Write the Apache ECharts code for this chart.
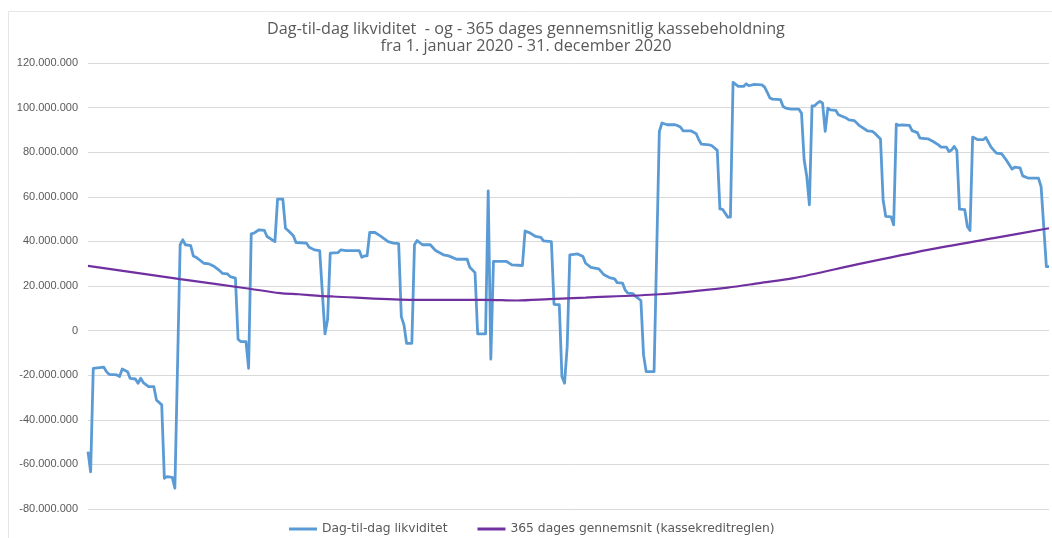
<!DOCTYPE html>
<html>
<head>
<meta charset="utf-8">
<script src="https://cdn.jsdelivr.net/npm/echarts@6/dist/echarts.min.js"></script>
<style>
html,body{margin:0;padding:0;background:#fff;}
#c{width:1052px;height:538px;}
</style>
</head>
<body>
<div id="c"></div>
<script>
// Daily liquidity (values in millions DKK), day-of-year index 1..366
const blueDays = [
  1,2,3,7,8,9,12,13,14,16,
  17,19,20,21,22,24,26,27,29,30,
  31,33,34,36,37,38,40,41,42,45,
  47,49,51,52,54,55,57,58,59,61,
  62,63,64,66,68,69,72,73,75,76,
  77,79,80,84,85,87,89,91,92,93,
  96,97,99,104,105,106,107,108,110,112,
  115,117,119,120,121,122,124,125,126,128,
  131,133,136,138,141,145,146,148,149,152,
  153,154,155,160,162,166,167,169,171,173,
  174,177,178,180,181,182,183,184,187,189,
  190,192,195,197,199,201,202,204,205,206,
  208,209,211,212,213,216,218,219,221,224,
  225,226,227,230,232,233,234,237,238,240,
  241,242,244,245,246,248,250,251,252,254,
  257,258,259,260,261,264,265,266,268,271,
  272,273,274,275,276,277,278,279,280,281,
  282,283,285,286,289,290,292,293,294,297,
  299,300,302,303,304,306,307,308,309,310,
  313,314,316,317,320,322,324,325,327,328,
  329,330,331,332,334,335,336,337,339,341,
  342,344,346,348,350,352,353,355,356,358,
  362,363,365,366
];
const blueValues = [
  -54.3,-63.3,-16.9,-16.4,-18.4,-19.6,-19.9,-20.6,-17.2,-18.4,
  -21.4,-21.7,-23.6,-21.4,-23.3,-25.1,-25.1,-31.1,-33.3,-66.2,
  -65.5,-65.8,-70.7,38.5,40.7,38.5,38.1,33.5,32.9,30.2,
  29.9,28.7,26.9,25.7,25.4,24.2,23.5,-3.9,-4.9,-4.9,
  -16.9,43.4,43.7,45.2,44.9,42.2,39.9,59.0,59.0,45.9,
  44.9,42.5,39.5,39.2,37.4,36.2,35.9,-1.5,5.0,34.7,
  35.0,36.2,35.9,35.9,32.9,33.5,33.5,44.0,44.0,42.5,
  39.9,39.2,39.0,6.3,2.6,-5.7,-5.7,38.5,40.4,38.5,
  38.5,35.9,34.0,33.5,32.0,32.0,28.4,26.0,-1.5,-1.5,
  62.7,-12.8,31.0,31.0,29.5,29.2,44.7,43.7,42.2,41.8,
  40.2,39.9,11.8,11.6,-20.6,-23.6,-7.2,34.0,34.4,33.2,
  30.2,28.4,27.7,25.0,23.8,23.2,21.5,21.3,18.3,16.8,
  16.6,15.3,13.5,-10.9,-18.4,-18.4,89.3,93.1,92.3,92.3,
  91.9,91.3,89.6,89.6,88.3,85.6,83.6,83.3,82.9,80.8,
  54.6,54.4,50.9,50.9,111.3,109.5,109.5,110.7,109.8,110.4,
  110.2,109.2,106.8,104.3,103.8,103.6,100.5,99.8,99.3,99.3,
  97.5,76.6,69.1,56.4,100.8,100.8,102.0,102.8,102.0,89.3,
  99.8,99.0,98.8,96.8,95.3,94.5,94.2,93.1,91.9,89.6,
  89.3,88.3,85.9,58.6,51.2,51.0,47.4,92.6,92.0,92.2,
  92.0,89.7,88.8,86.3,86.0,84.8,83.3,82.3,82.3,80.3,
  81.0,82.6,80.8,54.5,54.2,46.7,44.9,86.8,85.6,85.6,
  86.6,82.3,79.6,79.3,76.1,72.4,73.3,73.0,69.4,68.4,
  68.4,64.6,28.7,28.7
];
// 365-day average (millions)
const avgDays   = [1,36,61,74,81,89,94,123,152,164,176,190,218,244,256,269,294,320,345,366];
const avgValues = [29.0,23.1,19.0,16.8,16.3,15.6,15.3,13.8,13.8,13.5,14.1,14.8,16.3,19.3,21.3,23.5,29.9,36.2,41.5,45.9];

const seriesNames = ['Dag-til-dag likviditet', '365 dages gennemsnit (kassekreditreglen)'];
const titleText = 'Dag-til-dag likviditet  - og - 365 dages gennemsnitlig kassebeholdning\nfra 1. januar 2020 - 31. december 2020';
const yMin = -80, yMax = 120, yStep = 20;

function fmt(v) {
  if (v === 0) return '0';
  const s = String(Math.abs(Math.round(v * 1e6))).replace(/\B(?=(\d{3})+(?!\d))/g, '.');
  return (v < 0 ? '-' : '') + s;
}

const blueData = blueDays.map((d, i) => [d, blueValues[i]]);
const avgData = avgDays.map((d, i) => [d, avgValues[i]]);

const chart = echarts.init(document.getElementById('c'), null, {renderer: 'canvas'});
chart.setOption({
  animation: false,
  backgroundColor: '#ffffff',
  title: {
    text: titleText,
    left: 'center',
    top: 16,
    textStyle: {color: '#595959', fontSize: 16.2, fontWeight: 'normal', fontFamily: 'Open Sans', lineHeight: 16.7}
  },
  graphic: [
    {type: 'line', shape: {x1: 8.5, y1: 11.5, x2: 1052, y2: 11.5}, style: {stroke: '#e6e6e6', lineWidth: 1}, silent: true},
    {type: 'line', shape: {x1: 8.5, y1: 11.5, x2: 8.5, y2: 538}, style: {stroke: '#e6e6e6', lineWidth: 1}, silent: true}
  ],
  legend: {
    left: 284,
    top: 518,
    itemWidth: 28,
    itemHeight: 3,
    itemGap: 30,
    textStyle: {color: '#595959', fontSize: 12.3, fontFamily: 'DejaVu Sans'},
    data: [
      {name: seriesNames[0], icon: 'rect'},
      {name: seriesNames[1], icon: 'rect'}
    ]
  },
  grid: {left: 88, right: 3, top: 63, bottom: 29, containLabel: false},
  xAxis: {
    type: 'value', min: 1, max: 366,
    axisLine: {show: false}, axisTick: {show: false}, axisLabel: {show: false}, splitLine: {show: false}
  },
  yAxis: {
    type: 'value', min: yMin, max: yMax, interval: yStep,
    axisLine: {show: false}, axisTick: {show: false},
    axisLabel: {color: '#595959', fontSize: 11, fontFamily: 'Liberation Sans', margin: 10, formatter: fmt},
    splitLine: {lineStyle: {color: '#d9d9d9', width: 1}}
  },
  series: [
    {
      name: seriesNames[0], type: 'line', data: blueData, showSymbol: false, symbol: 'none',
      lineStyle: {color: '#5B9BD5', width: 2.8, join: 'round'}, itemStyle: {color: '#5B9BD5'}
    },
    {
      name: seriesNames[1], type: 'line', data: avgData, showSymbol: false, symbol: 'none', smooth: 0.3,
      lineStyle: {color: '#7030A0', width: 2.2}, itemStyle: {color: '#7030A0'}
    }
  ]
});
</script>
</body>
</html>
